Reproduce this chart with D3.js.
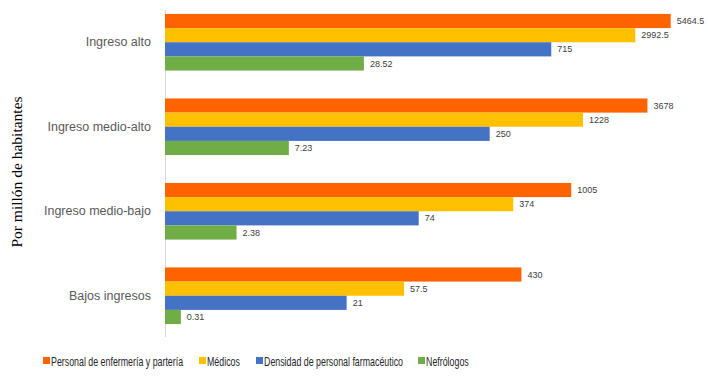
<!DOCTYPE html>
<html>
<head>
<meta charset="utf-8">
<script src="https://cdn.jsdelivr.net/npm/d3@7"></script>
<style>
  body { margin: 0; background: #fff; }
  svg { display: block; }
</style>
</head>
<body>
<div id="chartArea"></div>
<script>
// data
const categories = ["Ingreso alto", "Ingreso medio-alto", "Ingreso medio-bajo", "Bajos ingresos"];
const seriesNames = ["Personal de enfermería y partería", "Médicos", "Densidad de personal farmacéutico", "Nefrólogos"];
const enfermeria = [5464.5, 3678, 1005, 430];
const medicos = [2992.5, 1228, 374, 57.5];
const farmaceutico = [715, 250, 74, 21];
const nefrologos = [28.52, 7.23, 2.38, 0.31];
const valueLabels = [
    ["5464.5", "2992.5", "715", "28.52"],
    ["3678", "1228", "250", "7.23"],
    ["1005", "374", "74", "2.38"],
    ["430", "57.5", "21", "0.31"]
];

// constants
const width = 708, height = 378;
const colors = ["#FF6300", "#FFC000", "#4472C4", "#70AD47"];
const sansFont = "'Liberation Sans', Arial, sans-serif";
const squeeze = 0.68;   // legend text is drawn condensed in the original

var seriesValues = [enfermeria, medicos, farmaceutico, nefrologos];
var rows = [];
categories.forEach(function (c, ci) {
    seriesValues.forEach(function (vals, si) {
        rows.push({ cat: c, series: si, value: vals[ci], label: valueLabels[ci][si] });
    });
});

var svg = d3.select("#chartArea").append("svg")
    .attr("width", width)
    .attr("height", height);

// scales: axis behaves like log(1 + x)
var xScale = d3.scaleSymlog().constant(1)
    .domain([0, d3.max(enfermeria)])
    .range([165, 670.7]);

var yScale = d3.scaleBand()
    .domain(categories)
    .range([0, 338])
    .paddingInner(0.33)
    .paddingOuter(0.165);

var ySub = d3.scaleBand()
    .domain(d3.range(seriesNames.length))
    .range([0, yScale.bandwidth()]);

// category axis
var yAxis = d3.axisLeft(yScale).tickSize(0).tickPadding(14);
var gAxis = svg.append("g")
    .attr("transform", "translate(165,0)")
    .call(yAxis);
gAxis.select(".domain").attr("stroke", "#d9d9d9").attr("d", "M0.5,10V337");
gAxis.selectAll("text")
    .attr("font-family", sansFont)
    .attr("font-size", 12.5)
    .attr("fill", "#595959");

// bars
svg.append("g").selectAll("rect")
    .data(rows)
    .enter()
    .append("rect")
    .attr("x", xScale(0))
    .attr("y", function (d) { return yScale(d.cat) + ySub(d.series); })
    .attr("width", function (d) { return xScale(d.value) - xScale(0); })
    .attr("height", ySub.bandwidth())
    .attr("fill", function (d) { return colors[d.series]; });

// value labels
svg.append("g").selectAll("text")
    .data(rows)
    .enter()
    .append("text")
    .attr("x", function (d) { return xScale(d.value) + 6; })
    .attr("y", function (d) { return yScale(d.cat) + ySub(d.series) + ySub.bandwidth() / 2; })
    .attr("dy", "0.35em")
    .attr("font-family", sansFont)
    .attr("font-size", 9)
    .attr("fill", "#404040")
    .text(function (d) { return d.label; });

// y title
svg.append("text")
    .attr("transform", "translate(22,172) rotate(-90)")
    .attr("text-anchor", "middle")
    .attr("font-family", "'Liberation Serif', 'Times New Roman', serif")
    .attr("font-size", 15.5)
    .attr("fill", "#000")
    .text("Por millón de habitantes");

// legend
var legendX = [43, 199, 256, 418];
var legend = svg.append("g").selectAll("g")
    .data(seriesNames)
    .enter()
    .append("g")
    .attr("transform", function (d, i) { return "translate(" + legendX[i] + ",361)"; });

legend.append("rect")
    .attr("x", 0)
    .attr("y", -4)
    .attr("width", 7)
    .attr("height", 7)
    .attr("fill", function (d, i) { return colors[i]; });

legend.append("text")
    .attr("transform", "translate(8,0) scale(" + squeeze + ",1)")
    .attr("dy", "0.35em")
    .attr("font-family", sansFont)
    .attr("font-size", 13)
    .attr("fill", "#262626")
    .text(function (d) { return d; });
</script>
</body>
</html>
